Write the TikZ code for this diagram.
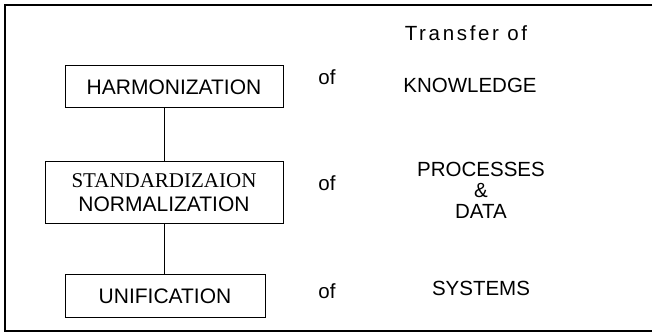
\documentclass[tikz,border=0pt]{standalone}
\usepackage{fontspec}
\setmainfont{Liberation Sans}
\newfontfamily\timesfont{Liberation Serif}
\begin{document}
\begin{tikzpicture}[x=1pt, y=-1pt,
    box/.style = {draw, line width=1pt, inner sep=0pt, font=\fontsize{21}{24}\selectfont},
    txt/.style = {inner sep=0pt, align=center, font=\fontsize{20.5}{21}\selectfont}]
    \useasboundingbox (0,0) rectangle (654,336);
    \draw[line width=1.3pt] (652,5) -- (5,5) -- (5,331) -- (652,331);
    \node[box, minimum width=218pt, minimum height=42pt] (harm) at (174,87) {HARMONIZATION};
    \node[box, minimum width=238pt, minimum height=62pt, align=center] (std) at (164,193)
      {{\timesfont STANDARDIZAION}\\NORMALIZATION};
    \node[box, minimum width=200pt, minimum height=43pt] (unif) at (165,296.5) {UNIFICATION};
      %
    \node[txt] (title) at (466,33) {\addfontfeatures{LetterSpace=13}Transfer of};
    \node[txt] (of1) at (327,77) {of};
    \node[txt] (of2) at (327,183) {of};
    \node[txt] (of3) at (327,291) {of};
    \node[txt] (know) at (470,85) {KNOWLEDGE};
    \node[txt] (proc) at (481,190) {PROCESSES\\\&\\DATA};
    \node[txt] (sys) at (481,288) {SYSTEMS};
      %
    \draw[line width=1pt] (std.north |- harm.south) -- (std.north);
    \draw[line width=1pt] (std.south) -- (std.south |- unif.north);
  \end{tikzpicture}
\end{document}
